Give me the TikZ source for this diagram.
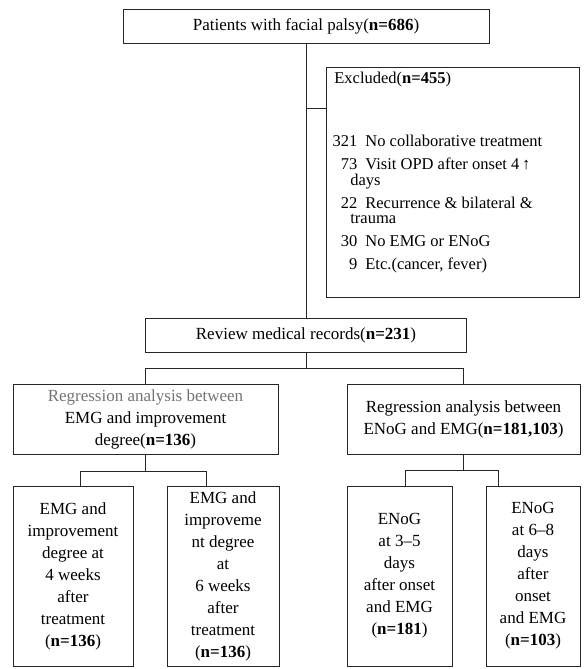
\documentclass[tikz,border=0pt]{standalone}
\usepackage{fontspec}
\setmainfont{Liberation Serif}
\newcommand\exitem[2]{\hangindent=16pt\hangafter=1\noindent\makebox[23pt][r]{#1}\hspace{8pt}#2\par}

\begin{document}
\begin{tikzpicture}[x=1pt,y=-1pt,line width=0.8pt,draw=black!85]
    \tikzstyle{box}=[draw,inner sep=0pt,align=center,font=\fontsize{17}{22}\selectfont]
    \tikzstyle{tall box}=[box,minimum height=180pt]
    \tikzstyle{list box}=[draw,anchor=north west,inner xsep=8pt,inner ysep=5pt,font=\fontsize{16.5}{15.5}\selectfont]
    \useasboundingbox (0,0) rectangle (584,669);

    % Draw the screening boxes
    \node[box,minimum width=366pt,minimum height=34pt] (pat) at (306,26) {Patients with facial palsy(\textbf{n=686})};
    \node[list box] (excl) at (326,67) {\parbox[t][220pt][t]{237pt}{\raggedright
        Excluded(\textbf{n=455})\par
        \vspace{40pt}\parskip=7.5pt
        \exitem{321}{No collaborative treatment}
        \exitem{73}{Visit OPD after onset 4\,↑\newline days}
        \exitem{22}{Recurrence \& bilateral \&\newline trauma}
        \exitem{30}{No EMG or ENoG}
        \exitem{9}{Etc.(cancer, fever)}}};
    \node[box,minimum width=321pt,minimum height=34pt] (rev) at (306,335) {Review medical records(\textbf{n=231})};

    % Draw the analysis boxes
    \node[box,minimum width=265pt,minimum height=70pt] (regl) at (145.5,419) {{\color{black!55}Regression analysis between}\\EMG and improvement\\degree(\textbf{n=136})};
    \node[box,minimum width=233pt,minimum height=70pt] (regr) at (463.5,419) {Regression analysis between\\ENoG and EMG(\textbf{n=181,103})};

    % Draw the bottom boxes
    \node[tall box,minimum width=120pt] (emg4) at (73,576) {EMG and\\improvement\\degree at\\4 weeks\\after\\treatment\\(\textbf{n=136})};
    \node[tall box,minimum width=112pt] (emg6) at (223,576) {EMG and\\improveme\\nt degree\\at\\6 weeks\\after\\treatment\\(\textbf{n=136})};
    \node[tall box,minimum width=105pt] (enog3) at (399.5,576) {ENoG\\at 3--5\\days\\after onset\\and EMG\\(\textbf{n=181})};
    \node[tall box,minimum width=94pt] (enog6) at (533,576) {ENoG\\at 6--8\\days\\after\\onset\\and EMG\\(\textbf{n=103})};

    % Connect the boxes
    \draw (pat) -- (rev);
    \coordinate (exjoin) at ([yshift=-65pt]pat.south);
    \draw (exjoin) -- (exjoin -| excl.west);
    \draw (rev.south) -- ++(0,16) coordinate (revjoin);
    \draw (regl.north) |- (revjoin) -| (regr.north);
    \draw (regl.south) -- ++(0,17) coordinate (ljoin);
    \draw ([xshift=68pt]emg4.north west) |- (ljoin) -| ([xshift=40pt]emg6.north west);
    \draw (regr.south) -- ++(0,16) coordinate (rjoin);
    \draw ([xshift=59pt]enog3.north west) |- (rjoin) -| ([xshift=13pt]enog6.north west);
\end{tikzpicture}
\end{document}
